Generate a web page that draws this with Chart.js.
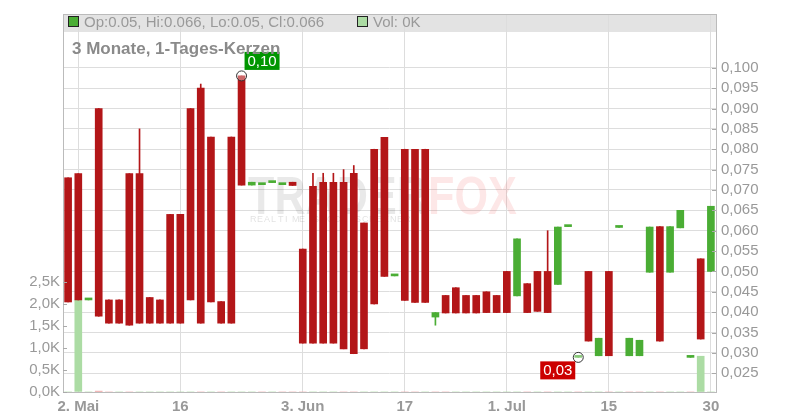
<!DOCTYPE html>
<html>
<head>
<meta charset="utf-8">
<script src="https://cdn.jsdelivr.net/npm/chart.js@4.4.1/dist/chart.umd.min.js"></script>
<style>
  html, body { margin: 0; padding: 0; background: #fff; }
</style>
</head>
<body>
<canvas id="myChart" width="800" height="420"></canvas>
<script>
// Handelstage (ein Tag ohne Kurs fehlt)
var dates = ['30.04.','02.05.','03.05.','06.05.','07.05.','08.05.','09.05.','10.05.','13.05.','14.05.',
  '15.05.','16.05.','17.05.','20.05.','21.05.','22.05.','23.05.','24.05.','27.05.','28.05.',
  '29.05.','30.05.','31.05.','03.06.','04.06.','05.06.','06.06.','07.06.','10.06.','11.06.',
  '12.06.','13.06.','14.06.','17.06.','18.06.','19.06.','20.06.','21.06.','24.06.','25.06.',
  '26.06.','27.06.','28.06.','01.07.','02.07.','03.07.','04.07.','05.07.','08.07.','09.07.',
  '10.07.','11.07.','12.07.','15.07.','16.07.','17.07.','18.07.','19.07.','22.07.','23.07.',
  '24.07.','25.07.','26.07.','30.07.'];

// Beschriftung der x-Achse
var tickText = {'02.05.': '2. Mai', '16.05.': '16', '03.06.': '3. Jun', '17.06.': '17',
  '01.07.': '1. Jul', '15.07.': '15', '30.07.': '30'};

var opens = [0.073,0.074,0.043,0.090,0.043,0.043,0.074,0.074,0.0436,0.043,
  0.064,0.064,0.090,0.095,0.083,0.0426,0.083,0.098,0.0712,0.0713,
  0.0718,0.0713,0.0719,0.0555,0.0709,0.0719,0.0719,0.0719,0.0741,0.0619,
  0.080,0.0829,0.0489,0.080,0.080,0.080,0.0388,0.0441,0.046,0.0441,
  0.0441,0.045,0.0441,0.050,0.044,0.047,0.050,0.050,0.0468,0.061,
  0.0289,0.050,0.0293,0.050,0.0608,0.0293,0.0293,0.0498,0.061,0.0498,
  0.0607,0.0289,0.0531,0.05];

var highs = [0.073,0.074,0.043,0.090,0.043,0.043,0.074,0.085,0.0436,0.043,
  0.064,0.064,0.090,0.096,0.083,0.0426,0.083,0.098,0.0719,0.0713,
  0.0718,0.0713,0.0719,0.0555,0.0741,0.0741,0.0741,0.075,0.076,0.0619,
  0.080,0.0829,0.0489,0.080,0.080,0.080,0.0399,0.0441,0.046,0.0441,
  0.0441,0.045,0.0441,0.050,0.058,0.047,0.050,0.060,0.0609,0.061,
  0.0289,0.050,0.0336,0.050,0.0608,0.0336,0.0331,0.0609,0.061,0.061,
  0.065,0.0289,0.0531,0.066];

var lows = [0.0425,0.043,0.043,0.039,0.0373,0.0373,0.0368,0.0373,0.0373,0.0373,
  0.0373,0.0373,0.043,0.0373,0.0425,0.0373,0.0373,0.0712,0.0712,0.0713,
  0.0718,0.0713,0.0711,0.0324,0.0324,0.0324,0.0324,0.031,0.0298,0.031,
  0.042,0.0488,0.0489,0.0429,0.0424,0.0424,0.0368,0.0398,0.0398,0.0398,
  0.0398,0.0399,0.0399,0.0399,0.044,0.0399,0.0402,0.0399,0.0468,0.061,
  0.0289,0.0329,0.0293,0.0293,0.0608,0.0293,0.0293,0.0498,0.0329,0.0498,
  0.0607,0.0289,0.0334,0.05];

var closes = [0.0425,0.043,0.043,0.039,0.0373,0.0373,0.0368,0.0373,0.0373,0.0373,
  0.0373,0.0373,0.043,0.0373,0.0425,0.0373,0.0373,0.0712,0.0719,0.0713,
  0.0718,0.0713,0.0711,0.0324,0.0324,0.0324,0.0324,0.031,0.0298,0.031,
  0.042,0.0488,0.0489,0.0429,0.0424,0.0424,0.0399,0.0398,0.0398,0.0398,
  0.0398,0.0399,0.0399,0.0399,0.058,0.0399,0.0402,0.0399,0.0609,0.061,
  0.0289,0.0329,0.0336,0.0293,0.0608,0.0336,0.0331,0.0609,0.0329,0.061,
  0.065,0.0289,0.0334,0.066];

// Volumen in Tausend Stück
var volumes = [0,2.08,0,0.02,0,0,0,0,0,0,
  0,0,0,0,0,0,0,0,0,0,
  0,0,0,0,0,0,0,0,0,0,
  0,0,0,0,0,0,0,0,0,0,
  0,0,0,0,0,0,0,0,0,0,
  0,0,0,0,0,0,0,0,0,0,
  0,0,0.81,0];

// Hoch / Tief im Zeitraum
var hiIdx = 17;
var loIdx = 50;

var red = 'rgb(179, 22, 24)';
var green = 'rgb(74, 173, 52)';
var volGreen = 'rgb(172, 220, 164)';
var volRed = 'rgb(240, 170, 170)';
var grey = '#999';
var font = '"Liberation Sans", Arial, sans-serif';

var candleColors = opens.map(function(o, i) { return closes[i] >= o ? green : red; });
var volColors = volumes.map(function(v, i) {
  return (i == 0 || closes[i] >= closes[i - 1]) ? volGreen : volRed;
});

function komma(v, d) { return v.toFixed(d).replace('.', ','); }

var chartDeko = {
  id: 'chartDeko',
  beforeDraw: function(chart) {
    var c = chart.ctx, a = chart.chartArea;
    c.save();
    c.fillStyle = '#e3e3e3';
    c.fillRect(a.left, a.top, a.right - a.left, 18);
    c.restore();
  },
  beforeDatasetsDraw: function(chart) {
    var c = chart.ctx;
    // Wasserzeichen
    c.save();
    c.font = 'bold 54px ' + font;
    c.translate(248, 214);
    c.scale(0.8, 1);
    c.fillStyle = 'rgba(0,0,0,0.085)';
    c.fillText('TRADER', 0, 0);
    var w = c.measureText('TRADER').width;
    c.fillStyle = 'rgba(235,60,60,0.12)';
    c.fillText('FOX', w, 0);
    c.restore();
    c.save();
    c.font = '9px ' + font;
    c.fillStyle = 'rgba(0,0,0,0.12)';
    var txt = 'REALTIME STOCK SCREENER';
    for (var k = 0; k < txt.length; k++) {
      c.fillText(txt[k], 250 + k * 7, 222);
    }
    c.restore();
  },
  afterDraw: function(chart) {
    var c = chart.ctx, a = chart.chartArea;
    c.save();
    c.strokeStyle = '#bbb';
    c.lineWidth = 1;
    c.strokeRect(a.left + 0.5, a.top + 0.5, a.right - a.left, a.bottom - a.top);

    // kleine Striche an den y-Achsen, nach innen
    c.strokeStyle = '#aaa';
    c.beginPath();
    chart.scales.y.ticks.forEach(function(t) {
      var py = Math.round(chart.scales.y.getPixelForValue(t.value)) + 0.5;
      c.moveTo(a.right - 4, py); c.lineTo(a.right, py);
    });
    chart.scales.yv.ticks.forEach(function(t) {
      var py = Math.round(chart.scales.yv.getPixelForValue(t.value)) + 0.5;
      c.moveTo(a.left, py); c.lineTo(a.left + 4, py);
    });
    c.stroke();

    // Hoch / Tief Beschriftung
    var meta = chart.getDatasetMeta(3);
    c.font = '15px ' + font;
    c.textAlign = 'center';
    c.textBaseline = 'middle';
    [hiIdx, loIdx].forEach(function(i) {
      var pt = meta.data[i];
      var bx, by, col, val;
      if (i == hiIdx) { bx = pt.x + 3; by = pt.y - 24; col = 'rgb(0,150,0)'; val = highs[i]; }
      else { bx = pt.x - 38; by = pt.y + 4; col = 'rgb(204,0,0)'; val = lows[i]; }
      c.fillStyle = col;
      c.fillRect(bx, by, 35, 18);
      c.fillStyle = '#fff';
      c.fillText(komma(val, 2), bx + 17.5, by + 9.5);
    });

    // Legende oben
    c.textAlign = 'left';
    c.textBaseline = 'alphabetic';
    var n = opens.length - 1;
    c.fillStyle = candleColors[n];
    c.fillRect(68, 16, 10, 10);
    c.strokeStyle = '#222';
    c.strokeRect(68.5, 16.5, 10, 10);
    c.fillStyle = volGreen;
    c.fillRect(357, 16, 10, 10);
    c.strokeRect(357.5, 16.5, 10, 10);
    c.font = '15px ' + font;
    c.fillStyle = grey;
    c.fillText('Op:' + opens[n] + ', Hi:' + highs[n] + ', Lo:' + lows[n] + ', Cl:' + closes[n], 84, 27);
    c.fillText('Vol: ' + volumes[n] + 'K', 373, 27);

    // Titel
    c.font = 'bold 17px ' + font;
    c.fillStyle = '#8a8a8a';
    c.fillText('3 Monate, 1-Tages-Kerzen', 72, 54);
    c.restore();
  }
};

var ctx = document.getElementById('myChart').getContext('2d');
var kerzenChart = new Chart(ctx, {
  type: 'bar',
  data: {
    labels: dates,
    datasets: [{
      // Kerzenkörper
      label: 'Kurs',
      data: opens.map(function(o, i) { return [o, closes[i]]; }),
      backgroundColor: candleColors,
      yAxisID: 'y',
      grouped: false,
      barThickness: 7,
      minBarLength: 2,
      borderWidth: 0,
      order: 1
    }, {
      // Dochte
      label: 'Docht',
      data: lows.map(function(l, i) { return [l, highs[i]]; }),
      backgroundColor: candleColors,
      yAxisID: 'y',
      grouped: false,
      barThickness: 1,
      borderWidth: 0,
      order: 2
    }, {
      label: 'Vol',
      data: volumes,
      backgroundColor: volColors,
      yAxisID: 'yv',
      grouped: false,
      barThickness: 7,
      borderWidth: 0,
      order: 3
    }, {
      type: 'line',
      label: 'HochTief',
      data: dates.map(function(d, i) {
        if (i == hiIdx) return highs[i];
        if (i == loIdx) return lows[i];
        return null;
      }),
      yAxisID: 'y',
      showLine: false,
      pointRadius: 5,
      pointBorderWidth: 1,
      pointBorderColor: '#333',
      pointBackgroundColor: 'rgba(255,255,255,0.35)',
      order: 0
    }]
  },
  options: {
    responsive: false,
    animation: false,
    layout: { padding: { top: 12, left: 0, right: 0, bottom: 0 } },
    plugins: { legend: { display: false }, tooltip: { enabled: false } },
    scales: {
      x: {
        offset: true,
        grid: {
          offset: false,
          drawTicks: false,
          color: function(c) { return c.tick && c.tick.label ? '#ddd' : 'rgba(0,0,0,0)'; }
        },
        border: { color: '#aaa' },
        ticks: {
          autoSkip: false,
          maxRotation: 0,
          padding: 6,
          color: grey,
          font: { family: font, size: 15, weight: 'bold' },
          callback: function(v, i) { return tickText[dates[i]] || ''; }
        },
        afterFit: function(s) { s.height = 28; }
      },
      y: {
        position: 'right',
        min: 0.0204,
        max: 0.1132,
        grid: { color: '#ddd', drawTicks: false },
        border: { color: '#aaa' },
        afterBuildTicks: function(s) {
          var t = [];
          for (var k = 5; k <= 20; k++) t.push({ value: k * 0.005 });
          s.ticks = t;
        },
        ticks: {
          padding: 5,
          color: grey,
          font: { family: font, size: 15 },
          callback: function(v) { return komma(v, 3); }
        },
        afterFit: function(s) { s.width = 84; }
      },
      yv: {
        position: 'left',
        min: 0,
        max: 8.56,
        grid: { drawOnChartArea: false, drawTicks: false },
        border: { color: '#aaa' },
        afterBuildTicks: function(s) {
          var t = [];
          for (var k = 0; k <= 5; k++) t.push({ value: k * 0.5 });
          s.ticks = t;
        },
        ticks: {
          padding: 3,
          color: grey,
          font: { family: font, size: 15 },
          callback: function(v) { return komma(v, 1) + 'K'; }
        },
        afterFit: function(s) { s.width = 63; }
      }
    }
  },
  plugins: [chartDeko]
});
</script>
</body>
</html>
